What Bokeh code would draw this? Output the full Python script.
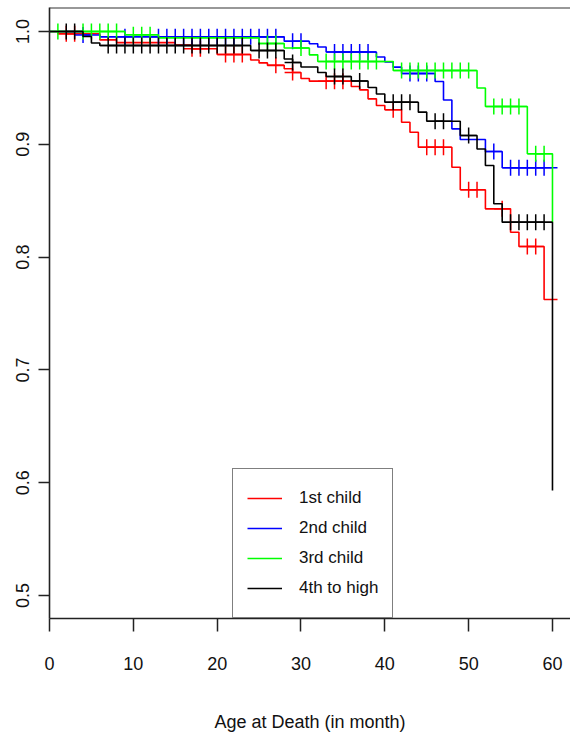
import numpy as np
from bokeh.plotting import figure
from bokeh.models import Range1d, Span, Legend, LegendItem, FixedTicker, PrintfTickFormatter
from bokeh.embed import file_html
from bokeh.resources import INLINE

# ---- data (Kaplan-Meier style step curves) ----
group_names = ["1st child", "2nd child", "3rd child", "4th to high"]

red_t = [0, 1, 6, 8, 15, 17, 20, 24, 25, 26, 28, 29, 30, 31, 36, 37, 38, 39, 40,
         42, 43, 44, 48, 49, 52, 55, 56, 59, 60.6]
red_s = [1.0, 0.998, 0.9926, 0.9902, 0.988, 0.9847, 0.9796, 0.9747, 0.9722, 0.970,
         0.967, 0.9637, 0.9583, 0.956, 0.9512, 0.9483, 0.9403, 0.9344, 0.9306,
         0.9196, 0.9107, 0.8974, 0.8797, 0.8597, 0.8428, 0.8221, 0.8094, 0.7624, 0.7624]
red_cens = [2, 3, 17, 18, 21, 22, 23, 27, 29, 33, 34, 35, 41, 45, 46, 47, 50, 51,
            54, 57, 58]

blue_t = [0, 4, 6, 28, 31, 32, 33, 39, 40, 41, 42, 46, 47, 48, 49, 52, 54, 60.6]
blue_s = [1.0, 0.9969, 0.9953, 0.9914, 0.9891, 0.9863, 0.9818, 0.9774, 0.973,
          0.9684, 0.9628, 0.9557, 0.9393, 0.9137, 0.9043, 0.8936, 0.8792, 0.8792]
blue_cens = [4, 9, 13, 14, 15, 16, 17, 18, 19, 20, 21, 22, 23, 24, 25, 26, 27, 29,
             30, 34, 35, 36, 37, 38, 43, 44, 45, 53, 55, 56, 57, 58, 59]

green_t = [0, 9, 13, 25, 28, 31, 32, 41, 51, 52, 57, 60]
green_s = [1.0, 0.9971, 0.9944, 0.9894, 0.9854, 0.9793, 0.9734, 0.9654, 0.9499,
           0.9335, 0.8916, 0.8309]
green_cens = [1, 4, 5, 6, 7, 8, 10, 11, 12, 26, 27, 30, 33, 34, 35, 36, 37, 38, 39,
              42, 43, 44, 45, 46, 47, 48, 49, 50, 53, 54, 55, 56, 58, 59]

black_t = [0, 4, 5, 6, 24, 28, 29, 30, 32, 33, 36, 38, 39, 40, 44, 45, 49, 51, 52,
           53, 54, 60]
black_s = [1.0, 0.9956, 0.9898, 0.9876, 0.9832, 0.9756, 0.9725, 0.9685, 0.9637,
           0.9601, 0.9561, 0.9504, 0.9446, 0.9373, 0.9285, 0.9205, 0.9078, 0.8958,
           0.8812, 0.8473, 0.8309, 0.5931]
black_cens = [2, 3, 7, 8, 9, 10, 11, 12, 13, 14, 15, 16, 17, 18, 19, 20, 21, 22, 23,
              25, 26, 27, 29, 34, 35, 37, 41, 42, 43, 46, 47, 50, 55, 56, 57, 58, 59]

x_ticks = [0, 10, 20, 30, 40, 50, 60]
y_ticks = [0.5, 0.6, 0.7, 0.8, 0.9, 1.0]
x_title = "Age at Death (in month)"

colors = ["#FF0000", "#0000FF", "#00FF00", "#000000"]
FONT = "Liberation Sans"

X_END = 62.15
Y_START, Y_END = 0.4796, 1.0213


def surv_at(times, surv, t):
    idx = np.searchsorted(np.asarray(times), np.asarray(t, dtype=float), side="right") - 1
    return np.asarray(surv)[idx]


p = figure(width=570, height=742, output_backend="svg", toolbar_location=None,
           x_range=Range1d(0, X_END), y_range=Range1d(Y_START, Y_END),
           min_border_left=49, min_border_right=0, min_border_top=7,
           min_border_bottom=124)
p.grid.visible = False
p.outline_line_color = None
p.background_fill_color = "white"
p.border_fill_color = "white"

series = [(red_t, red_s, red_cens), (blue_t, blue_s, blue_cens),
          (green_t, green_s, green_cens), (black_t, black_s, black_cens)]
renderers = []
for (tt, ss, cc), col in zip(series, colors):
    r = p.step(tt, ss, mode="after", line_color=col, line_width=1.6)
    renderers.append(r)
    p.scatter(cc, surv_at(tt, ss, cc), marker="cross", size=16, line_color=col,
              line_width=1.5)

# top box line
p.add_layout(Span(location=Y_END, dimension="width", line_color="#333333",
                  line_width=2))

# axes
for ax in (p.xaxis[0], p.yaxis[0]):
    ax.axis_line_color = "#222222"
    ax.axis_line_width = 1.6
    ax.major_tick_line_color = "#222222"
    ax.major_tick_line_width = 1.5
    ax.major_tick_in = 0
    ax.minor_tick_line_color = None
    ax.major_label_text_font = FONT
    ax.major_label_text_font_size = "18px"
    ax.major_label_text_color = "#111111"

p.xaxis.ticker = FixedTicker(ticks=x_ticks)
p.xaxis.major_tick_out = 13
p.xaxis.major_label_standoff = 25
p.xaxis.axis_label = x_title
p.xaxis.axis_label_text_font = FONT
p.xaxis.axis_label_text_font_size = "18px"
p.xaxis.axis_label_text_font_style = "normal"
p.xaxis.axis_label_text_color = "#111111"
p.xaxis.axis_label_standoff = 39

p.yaxis.ticker = FixedTicker(ticks=y_ticks)
p.yaxis.formatter = PrintfTickFormatter(format="%.1f")
p.yaxis.major_tick_out = 11
p.yaxis.major_label_standoff = 9
p.yaxis.major_label_orientation = "vertical"

legend = Legend(items=[LegendItem(label=n, renderers=[r]) for n, r in zip(group_names, renderers)],
                location=(183, 0), border_line_color="black", border_line_width=1.2,
                background_fill_color="white", background_fill_alpha=1.0,
                padding=14, spacing=0, label_height=30, glyph_height=30,
                glyph_width=35, label_standoff=17, margin=0,
                label_text_font=FONT, label_text_font_size="17px",
                label_text_color="#111111")
p.add_layout(legend)

open("out.html", "w").write(file_html(p, INLINE))
